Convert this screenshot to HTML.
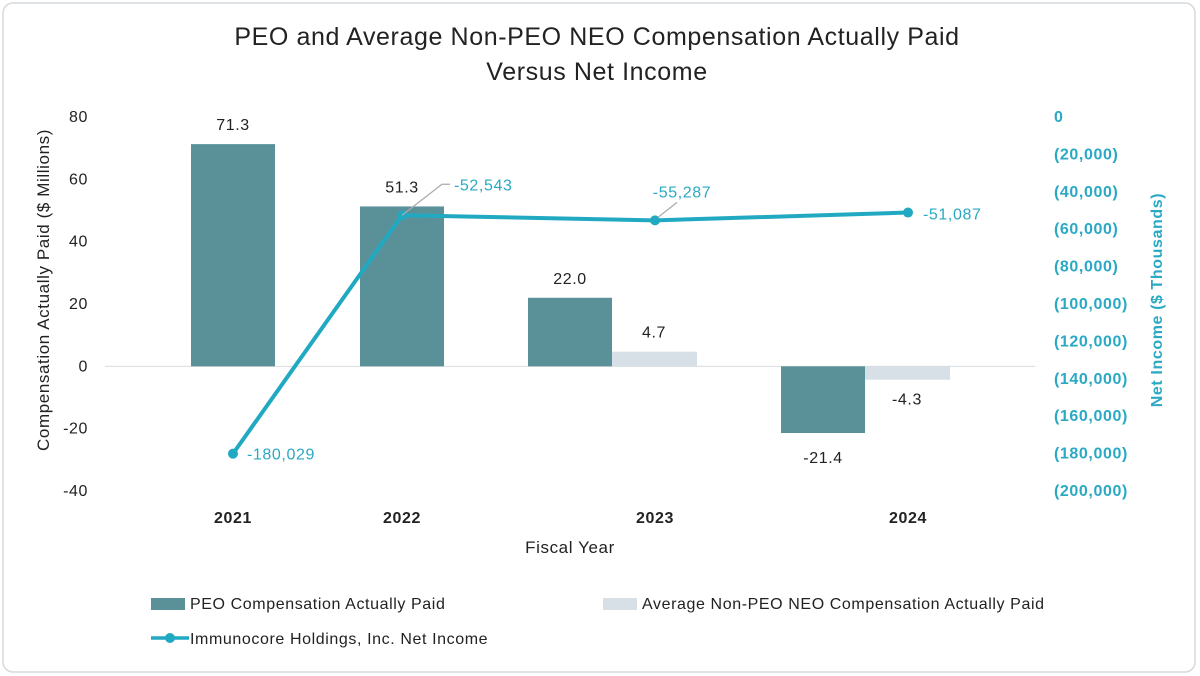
<!DOCTYPE html>
<html><head><meta charset="utf-8">
<style>
body{margin:0;background:#fff;font-family:"Liberation Sans",sans-serif;}
#wrap{position:relative;width:1200px;height:676px;overflow:hidden;}
svg text{font-family:"Liberation Sans",sans-serif;letter-spacing:0.6px;}
</style></head>
<body>
<div id="wrap">
<svg id="chart" width="1200" height="676">
<rect x="3" y="3" width="1192" height="669" rx="10" fill="#fff" stroke="#d6dadd" stroke-width="1.5"/>
<text x="597" y="45" font-size="25" text-anchor="middle" fill="#222">PEO and Average Non-PEO NEO Compensation Actually Paid</text>
<text x="597" y="80" font-size="25" text-anchor="middle" fill="#222">Versus Net Income</text>
<text transform="translate(49,290) rotate(-90)" font-size="17" text-anchor="middle" fill="#222">Compensation Actually Paid ($ Millions)</text>
<text transform="translate(1162,300) rotate(-90)" font-size="16" font-weight="bold" text-anchor="middle" fill="#2aa9c4">Net Income ($ Thousands)</text>
<text x="570" y="553" font-size="17" text-anchor="middle" fill="#222">Fiscal Year</text>
<g id="grid"></g><g id="bars"></g><g id="line"></g><g id="labels"></g>
<g>
<rect x="151" y="598" width="34" height="12" fill="#5a9199"/>
<text x="190" y="609" font-size="16" fill="#222">PEO Compensation Actually Paid</text>
<rect x="603" y="598" width="34" height="12" fill="#d6e0e6"/>
<text x="642" y="609" font-size="16" fill="#222">Average Non-PEO NEO Compensation Actually Paid</text>
<line x1="151" y1="638" x2="189" y2="638" stroke="#22a9c2" stroke-width="3.5"/>
<circle cx="170" cy="638" r="5" fill="#22a9c2"/>
<text x="190" y="644" font-size="16" fill="#222">Immunocore Holdings, Inc. Net Income</text>
</g>
</svg>
</div>
<script>
const categories = ["2021","2022","2023","2024"];
const peoValues = [71.3, 51.3, 22.0, -21.4];
const neoValues = [null, null, 4.7, -4.3];
const netIncome = [-180029, -52543, -55287, -51087];
const leftTicks = [80, 60, 40, 20, 0, -20, -40];
const rightTicks = [0, -20000, -40000, -60000, -80000, -100000, -120000, -140000, -160000, -180000, -200000];

const NS = "http://www.w3.org/2000/svg";
function yL(v){ return 117 + (80 - v) * (374/120); }
function yR(v){ return 117 + (-v) * (374/200000); }
function xC(i){ return [233, 402, 655, 908][i]; }
const BW = 84;
function mk(tag, attrs, parent){ const e=document.createElementNS(NS,tag); for(const k in attrs) e.setAttribute(k,attrs[k]); parent.appendChild(e); return e; }
function fmtR(v){ return v===0 ? "0" : "(" + Math.abs(v).toLocaleString("en-US") + ")"; }
const grid=document.getElementById("grid"), bars=document.getElementById("bars"), line=document.getElementById("line"), labels=document.getElementById("labels");

leftTicks.forEach(t=>{
  const e=mk("text",{x:88,y:yL(t)+5,"font-size":16,"text-anchor":"end",fill:"#222"},grid);
  
  
  e.textContent=t;
});
rightTicks.forEach(t=>{
  const e=mk("text",{x:1054,y:yR(t)+5,"font-size":16,"font-weight":"bold",fill:"#2aa9c4"},grid);
  
  
  e.textContent=fmtR(t);
});
const zl=mk("line",{x1:105,x2:1035,y1:yL(0),y2:yL(0),stroke:"#d9dcde","stroke-width":1},grid);



categories.forEach((c,i)=>{
  const cx=xC(i);
  const hasNeo = neoValues[i]!==null;
  const px = hasNeo ? cx-127 : cx-BW/2;
  const pv=peoValues[i];
  const r=mk("rect",{x:px,y:Math.min(yL(pv),yL(0)),width:BW,height:Math.abs(yL(pv)-yL(0)),fill:"#5a9199"},bars);
  
  
  const pl=mk("text",{x:px+BW/2,y:pv>=0?yL(pv)-14:yL(pv)+30,"font-size":16,"text-anchor":"middle",fill:"#222"},labels);
  
  
  pl.textContent=pv.toFixed(1);
  if(hasNeo){
    const nv=neoValues[i], nx=cx-43;
    const n=mk("rect",{x:nx,y:Math.min(yL(nv),yL(0)),width:BW+1,height:Math.abs(yL(nv)-yL(0)),fill:"#d6e0e6"},bars);
    
    
    const nl=mk("text",{x:nx+BW/2,y:nv>=0?yL(nv)-14:yL(nv)+25,"font-size":16,"text-anchor":"middle",fill:"#222"},labels);
    
    
    nl.textContent=nv.toFixed(1);
  }
  const xl=mk("text",{x:cx,y:523,"font-size":16,"font-weight":"bold","text-anchor":"middle",fill:"#222"},labels);
  
  
  xl.textContent=c;
});

const pts=netIncome.map((v,i)=>xC(i)+","+yR(v)).join(" ");
const pl=mk("polyline",{points:pts,fill:"none",stroke:"#22a9c2","stroke-width":4,"stroke-linejoin":"round"},line);


netIncome.forEach((v,i)=>{
  const x=xC(i), y=yR(v);
  const c=mk("circle",{cx:x,cy:y,r:5,fill:"#22a9c2"},line);
  
  
  let tx,ty,anchor="start";
  if(i===0){tx=x+14;ty=y+6;}
  else if(i===1){
    const ld=mk("polyline",{points:x+","+y+" "+(x+40)+","+(y-31)+" "+(x+48)+","+(y-31),fill:"none",stroke:"#aaa","stroke-width":1.2},line);
    
    
    tx=x+52;ty=y-25;
  }
  else if(i===2){
    const ld=mk("line",{x1:x+3,y1:y-3,x2:x+22,y2:y-18,stroke:"#aaa","stroke-width":1.2},line);
    
    
    tx=x+27;ty=y-23;anchor="middle";
  }
  else {tx=x+15;ty=y+7;}
  const t=mk("text",{x:tx,y:ty,"font-size":16,fill:"#2aa9c4","text-anchor":anchor},labels);
  
  
  t.textContent=v.toLocaleString("en-US");
});
</script>
</body></html>
